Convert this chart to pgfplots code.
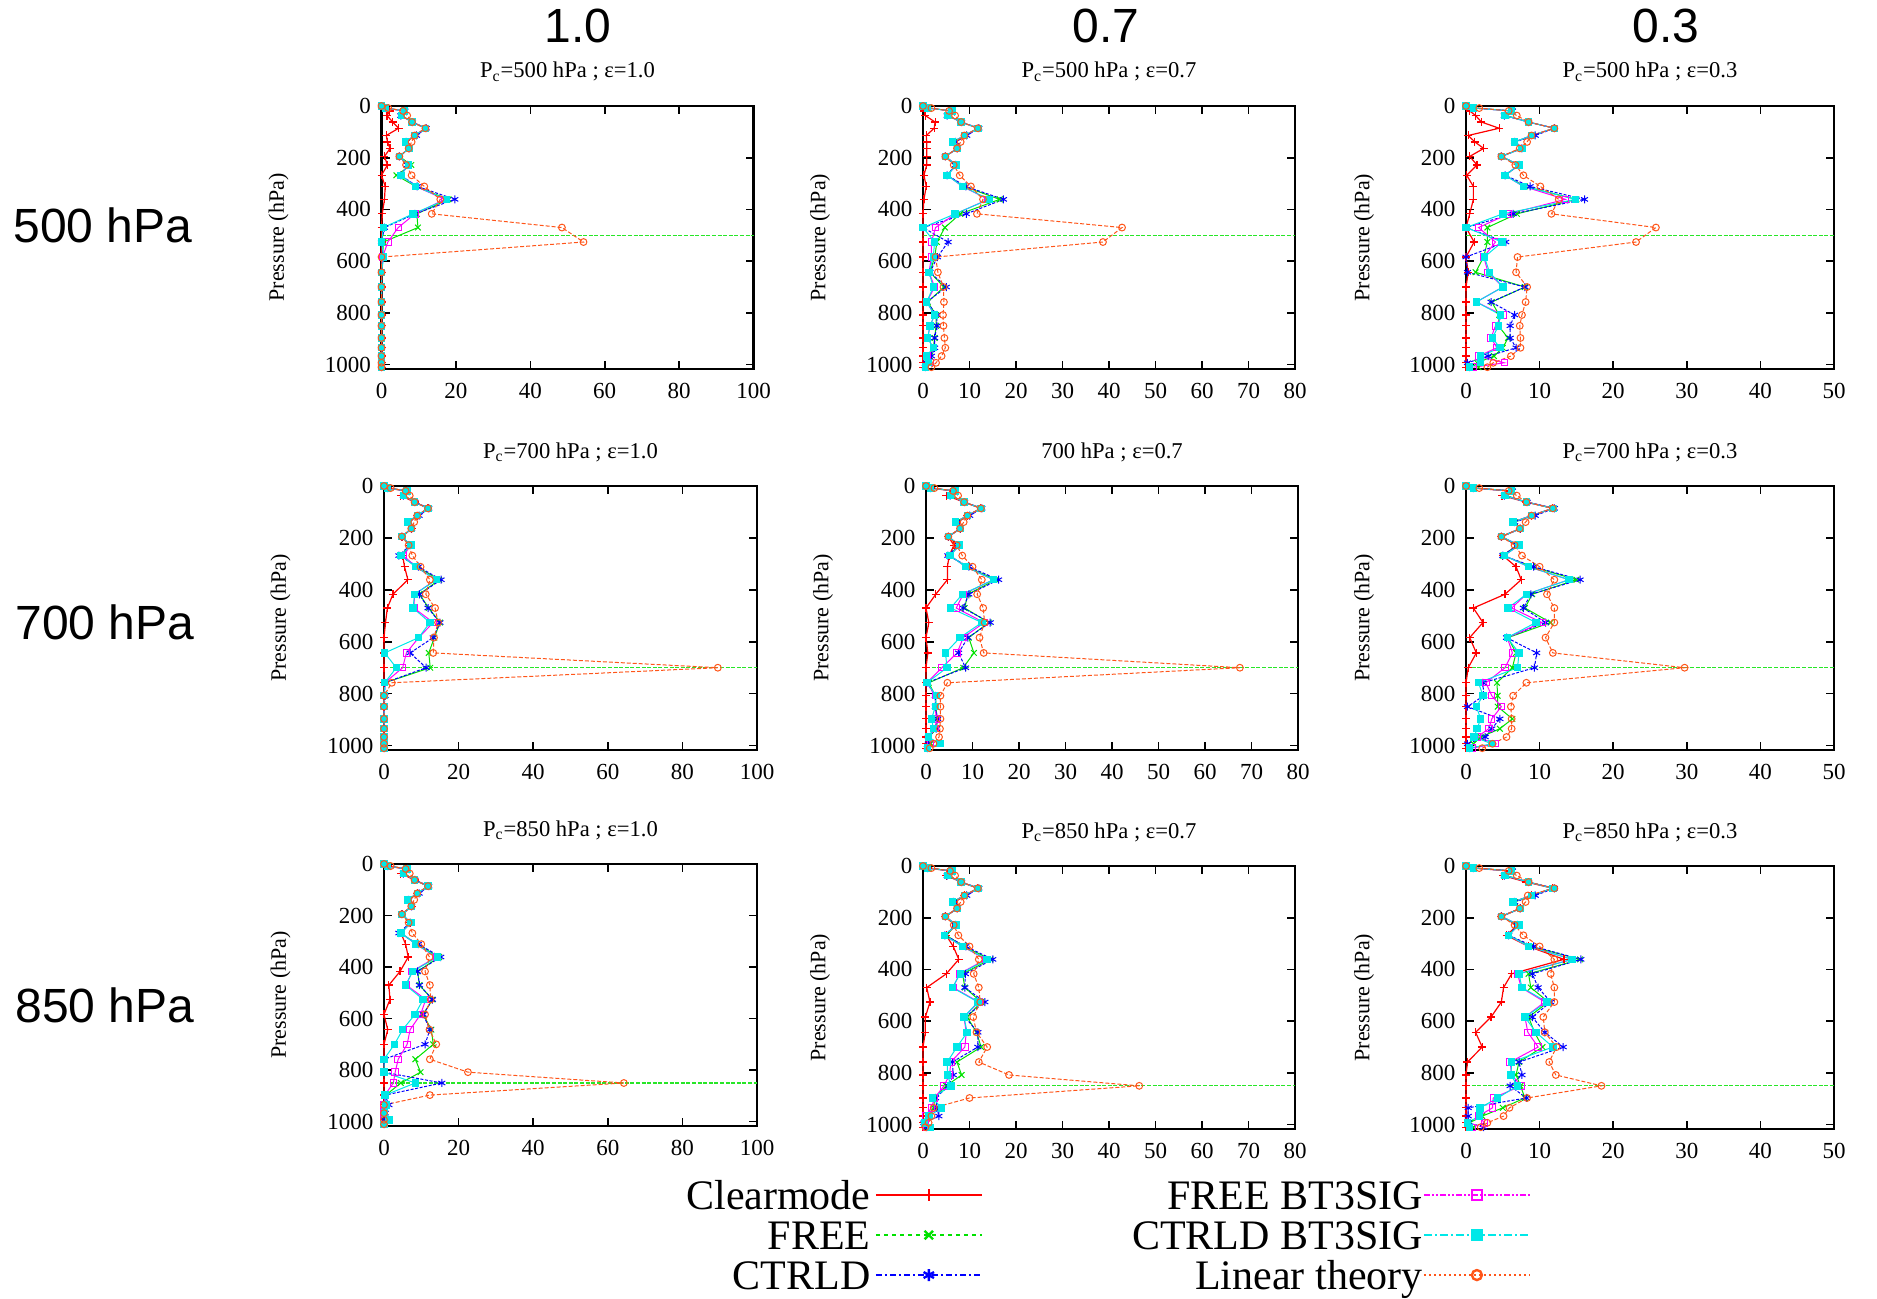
\documentclass[border=0pt]{standalone}
\usepackage{fontspec}
\setmainfont{Liberation Serif}
\newfontfamily\hv{Liberation Sans}
\usepackage{pgfplots}
\usepackage{pgfplotstable}
\pgfplotsset{compat=1.18}

\definecolor{cRed}{RGB}{255,0,0}
\definecolor{cGreen}{RGB}{0,225,0}
\definecolor{cBlue}{RGB}{0,0,255}
\definecolor{cMag}{RGB}{255,0,255}
\definecolor{cCyan}{RGB}{0,232,232}
\definecolor{cOr}{RGB}{255,85,25}
\definecolor{cGL}{RGB}{40,230,40}

\pgfplotsset{
 pan/.style={scale only axis, y dir=reverse, ymin=0, ymax=1017, xmin=0,
   ytick={0,200,...,1000}, tick align=inside, clip=false,
   axis line style={line width=1.2pt}, major tick length=4pt,
   every tick/.style={black, line width=0.8pt},
   /pgf/number format/assume math mode=true, /pgf/number format/1000 sep={},
   xticklabel={\pgfmathprintnumber{\tick}}, yticklabel={\pgfmathprintnumber{\tick}},
   tick label style={font=\rmfamily\fontsize{11.5}{12}\selectfont},
   xticklabel style={yshift=-3.5pt}, yticklabel style={xshift=-1.8pt},
   ylabel={Pressure (hPa)},
   every axis y label/.style={at={(axis description cs:-0.277,0.5)}, rotate=90, anchor=center, font=\rmfamily\fontsize{11}{12}\selectfont},
   every axis title/.style={at={(axis description cs:0.5,1)}, anchor=base, yshift=14pt, font=\rmfamily\fontsize{11.3}{12}\selectfont}},
 pline/.style={cGL, line width=0.6pt, dash pattern=on 2pt off 0.8pt, forget plot},
 sCl/.style={color=cRed, line width=0.6pt, mark=+, mark size=2pt},
 sFr/.style={color=cGreen, line width=0.5pt, mark=x, mark size=2pt},
 sCt/.style={color=cBlue, line width=0.5pt, dash pattern=on 1.5pt off 0.8pt, mark=asterisk, mark size=2pt, mark options={solid}},
 sFb/.style={color=cMag, line width=0.5pt, mark=square, mark size=1.6pt, mark options={solid}},
 sCb/.style={color=cCyan, line width=0.5pt, mark=square*, mark size=1.6pt, mark options={solid}},
 sLi/.style={color=cOr, line width=0.5pt, dash pattern=on 2pt off 1pt, mark=o, mark size=1.7pt, mark options={solid}},
}

% columns: pressure, Clearmode, FREE, CTRLD, FREE BT3SIG, CTRLD BT3SIG, Linear theory
\pgfplotstableread{
p cl fr ct fb cb li
0 0 0 0 0 0 0
8 0.5 1.2 1.0 1.0 1.0 1.8
19 2.2 6.3 6.3 6.2 6.2 5.8
37 1.5 5.5 5.2 5.3 5.3 6.9
62 3.0 8.2 8.3 8.2 8.2 8.2
86 4.6 11.8 12.0 11.8 11.8 11.8
114 1.3 9.0 9.4 8.9 8.9 8.9
139 1.6 6.6 6.6 6.4 6.4 8.1
164 2.3 7.4 7.4 7.4 7.4 7.3
195 0.8 4.8 4.8 4.8 4.8 4.8
228 1.6 8.0 7.0 7.2 7.2 6.6
268 0.0 4.0 5.2 5.2 5.2 8.1
311 1.0 9.2 9.6 9.2 9.2 11.5
361 0.8 18.0 19.7 17.0 17.5 15.8
417 0.2 9.5 9.0 9.0 8.5 13.5
470 0.0 9.8 0.8 4.5 0.5 48.5
526 0.0 0.5 0.0 1.7 0.0 54.3
584 0.0 0.3 0.5 0.3 0.6 0.0
643 0 0 0 0 0 0
700 0 0 0 0 0 0
758 0 0 0 0 0 0
808 0 0 0 0 0 0
850 0 0 0 0 0 0
897 0 0 0 0 0 0
935 0 0 0 0 0 0
967 0 0 0 0 0 0
993 0 0 0 0 0 0
1010 0 0 0 0 0 0
}\tA

\pgfplotstableread{
p cl fr ct fb cb li
0 0 0 0 0 0 0
8 0.3 1.2 1.0 1.0 1.0 1.8
19 0.3 6.3 6.3 6.2 6.2 5.6
37 0.5 5.5 5.2 5.3 5.3 6.9
62 2.6 8.2 8.3 8.2 8.2 8.2
86 2.4 11.8 12.0 11.8 11.8 11.8
114 0.7 9.0 9.4 8.9 8.9 8.9
139 0.8 6.6 7.0 6.4 6.4 8.1
164 0.8 7.4 7.4 7.4 7.4 7.3
195 0.8 4.8 4.8 4.8 4.8 4.8
228 0.8 7.0 7.0 7.2 7.2 6.6
268 0.2 5.2 5.2 5.2 5.2 7.9
311 0.7 8.8 9.2 8.5 8.5 10.3
361 0.2 16.5 17.3 14.0 14.2 12.9
417 0.0 8.0 9.3 7.0 6.9 11.6
470 0.0 4.7 0.0 2.7 0.0 42.8
526 0.0 3.0 5.4 1.8 2.5 38.7
584 0.0 2.5 3.1 1.8 2.2 2.7
643 0.0 1.5 1.5 1.3 1.3 3.2
700 0.0 4.5 5.0 2.5 2.2 4.4
758 0.0 1.0 0.8 0.8 0.8 4.5
808 0.0 2.8 3.0 2.5 2.5 4.3
850 0.0 2.8 3.0 1.5 1.5 4.4
897 0.0 2.5 2.5 1.0 1.0 4.6
935 0.0 2.2 2.5 2.2 2.2 4.8
967 0.0 1.5 1.8 1.0 0.8 4.0
993 0.0 1.0 0.8 1.5 1.2 2.8
1010 0.0 0.5 0.5 0.5 0.5 1.8
}\tB

\pgfplotstableread{
p cl fr ct fb cb li
0 0 0 0 0 0 0
8 0.3 1.2 1.0 1.0 1.0 1.8
19 0.5 6.3 6.3 6.2 6.2 5.8
37 1.3 5.5 5.2 5.3 5.3 6.9
62 2.1 8.5 8.5 8.5 8.5 8.5
86 4.5 12.0 12.0 12.0 12.0 12.0
114 0.3 9.0 9.4 8.9 8.9 8.9
139 1.2 6.6 6.6 6.6 6.6 8.3
164 2.4 7.6 7.6 7.6 7.6 7.3
195 0.5 4.8 4.8 4.8 4.8 4.8
228 1.5 7.2 7.2 7.2 7.2 6.7
268 0.1 5.3 5.3 5.3 5.3 7.8
311 1.0 8.0 8.7 7.8 7.8 10.1
361 1.0 15.0 16.1 13.5 14.9 12.6
417 0.5 6.9 6.4 5.8 5.0 11.6
470 0.0 2.9 0.0 1.7 0.0 25.8
526 1.1 2.9 5.4 4.0 4.9 23.1
584 0.0 2.4 0.0 2.4 2.5 7.0
643 0.3 1.3 0.2 3.0 3.2 6.8
700 0.0 8.0 8.0 5.0 5.0 8.3
758 0.0 3.5 3.4 1.4 1.4 8.1
808 0.0 4.5 6.6 5.0 4.7 7.6
850 0.0 4.4 6.0 4.0 4.4 7.3
897 0.0 5.7 6.0 3.4 3.6 7.4
935 0.0 5.0 6.8 4.2 4.6 7.4
967 0.0 3.8 3.0 1.7 2.0 6.1
993 0.0 1.5 0.2 5.2 2.0 3.7
1010 0.0 1.7 0.5 1.0 0.5 2.9
}\tC

\pgfplotstableread{
p cl fr ct fb cb li
0 0 0 0 0 0 0
8 1.0 1.2 1.0 1.0 1.0 1.8
19 5.8 6.3 6.3 6.2 6.2 5.8
37 4.5 5.5 5.2 5.3 5.3 6.9
62 8.2 8.2 8.3 8.2 8.2 8.2
86 11.8 11.8 12.0 11.8 11.8 11.8
114 8.9 9.0 9.4 8.9 8.9 8.9
139 6.4 6.6 6.6 6.4 6.4 8.1
164 7.4 7.4 7.4 7.4 7.4 7.3
195 4.8 4.8 4.8 4.8 4.8 4.8
228 7.0 7.0 7.0 7.2 7.2 6.6
268 5.0 4.5 4.0 5.2 4.6 7.6
311 5.5 8.8 9.2 8.5 8.4 9.8
361 6.4 14.8 15.3 14.0 14.0 12.3
417 2.4 9.5 9.5 8.2 8.2 11.2
470 0.9 12.0 11.8 8.0 7.8 13.7
526 0.4 15.0 15.0 13.2 12.3 14.5
584 0.0 13.5 13.2 9.3 9.3 13.4
643 0.0 12.0 7.0 6.0 0.2 13.2
700 0.0 12.4 11.3 5.0 3.3 89.5
758 0.0 0.2 0.2 0.2 0.2 2.1
808 0.0 0.0 0.3 0.0 0.0 0.0
850 0 0 0 0 0 0
897 0 0 0 0 0 0
935 0 0 0 0 0 0
967 0 0 0 0 0 0
993 0 0 0 0 0 0
1010 0 0 0 0 0 0
}\tD

\pgfplotstableread{
p cl fr ct fb cb li
0 0 0 0 0 0 0
8 1.0 1.2 1.0 1.0 1.0 1.8
19 5.8 6.3 6.3 6.2 6.2 5.8
37 4.4 5.5 5.2 5.3 5.3 6.9
62 8.2 8.2 8.3 8.2 8.2 8.2
86 11.8 11.8 12.0 11.8 11.8 11.8
114 8.9 9.0 9.4 8.9 8.9 8.9
139 6.4 6.6 6.6 6.4 6.4 8.1
164 7.4 7.4 7.4 7.4 7.4 7.3
195 4.8 4.8 4.8 4.8 4.8 4.8
228 6.0 7.0 7.0 7.2 7.2 6.6
268 5.0 5.0 4.7 5.2 5.2 7.8
311 4.6 8.8 9.2 8.5 8.5 10.0
361 4.6 15.0 15.6 14.5 14.5 12.0
417 2.1 9.0 9.2 8.0 7.8 11.0
470 0.0 8.3 8.0 6.5 5.3 12.3
526 0.6 13.5 13.8 12.5 12.0 12.6
584 0.0 9.2 9.0 8.0 7.3 11.5
643 0.4 10.3 7.0 6.7 4.2 12.4
700 0.0 8.0 8.5 3.4 4.5 67.5
758 0.0 0.6 0.2 0.2 0.2 4.6
808 0.0 2.0 2.0 2.0 2.2 3.1
850 0.0 2.2 2.0 2.0 2.0 3.1
897 0.0 2.3 2.5 2.2 1.2 3.1
935 0.0 2.4 2.2 2.0 1.6 3.0
967 0.0 0.5 0.5 0.5 0.5 2.8
993 0.0 1.0 0.5 1.0 3.0 1.6
1010 0.0 0.3 0.3 0.3 0.3 0.8
}\tE

\pgfplotstableread{
p cl fr ct fb cb li
0 0 0 0 0 0 0
8 1.0 1.2 1.0 1.0 1.0 1.8
19 5.8 6.3 6.3 6.2 6.2 5.8
37 4.9 5.5 5.2 5.3 5.3 6.9
62 8.2 8.2 8.3 8.2 8.2 8.2
86 11.8 11.8 12.0 11.8 11.8 11.8
114 8.9 9.0 9.4 8.9 8.9 8.9
139 6.4 6.6 6.6 6.4 6.4 8.1
164 7.4 7.4 7.4 7.4 7.4 7.3
195 4.8 4.8 4.8 4.8 4.8 4.8
228 7.0 7.0 7.0 7.2 7.2 6.6
268 5.0 5.0 5.0 5.2 5.2 7.6
311 6.8 9.0 9.2 8.5 8.5 10.0
361 7.5 15.0 15.5 14.0 14.0 12.0
417 5.3 9.0 8.8 8.2 8.2 11.0
470 1.0 8.0 7.8 6.2 5.7 12.0
526 2.3 11.5 10.8 10.3 9.5 12.0
584 0.5 5.7 5.5 5.6 5.6 10.8
643 1.4 6.8 9.6 6.3 7.2 11.8
700 0.3 6.3 9.3 5.3 7.0 29.7
758 0.0 4.2 2.3 2.7 1.7 8.2
808 0.0 4.3 2.4 3.5 2.3 6.4
850 0.0 4.3 0.2 4.8 1.4 6.1
897 0.0 6.3 4.6 3.5 2.0 6.2
935 0.0 4.6 3.5 3.1 1.5 6.2
967 0.0 2.0 2.6 1.5 1.1 5.5
993 0.0 1.0 0.2 4.0 3.5 3.6
1010 0.0 0.5 0.5 0.8 0.5 2.2
}\tF

\pgfplotstableread{
p cl fr ct fb cb li
0 0 0 0 0 0 0
8 1.0 1.2 1.0 1.0 1.0 1.8
19 5.8 6.3 6.3 6.2 6.2 5.8
37 4.5 5.5 5.2 5.3 5.3 6.9
62 8.2 8.2 8.3 8.2 8.2 8.2
86 11.8 11.8 12.0 11.8 11.8 11.8
114 8.9 9.0 9.4 8.9 8.9 8.9
139 6.4 6.6 6.6 6.4 6.4 8.1
164 7.4 7.4 7.4 7.4 7.4 7.3
195 4.8 4.8 4.8 4.8 4.8 4.8
228 7.0 7.0 7.0 7.2 7.2 6.6
268 4.5 4.5 4.0 4.6 4.6 7.6
311 5.8 8.8 9.2 8.5 8.5 10.0
361 6.5 14.8 15.2 14.0 14.3 12.2
417 4.3 9.0 9.0 7.5 7.7 11.0
470 1.3 9.5 9.5 6.0 5.8 12.3
526 1.6 13.0 13.0 11.2 10.5 12.5
584 0.0 10.5 10.5 9.8 8.3 11.0
643 1.0 12.7 12.3 7.0 5.0 12.2
700 0.0 13.2 11.0 6.2 2.8 14.0
758 0.0 8.4 0.0 3.8 0.0 12.3
808 0.0 9.8 0.0 3.0 0.0 22.5
850 0.0 4.5 15.5 2.5 8.4 64.3
897 0.0 0.5 0.3 0.2 0.3 12.3
935 0.0 0.2 1.3 0.0 0.5 0.0
967 0.0 0.0 0.3 0.0 0.2 0.0
993 0.0 0.0 0.0 0.0 1.3 0.0
1010 0 0 0 0 0 0
}\tG

\pgfplotstableread{
p cl fr ct fb cb li
0 0 0 0 0 0 0
8 1.0 1.2 1.0 1.0 1.0 1.8
19 5.8 6.3 6.3 6.2 6.2 5.8
37 5.0 5.5 5.2 5.3 5.3 6.9
62 8.2 8.2 8.3 8.2 8.2 8.2
86 11.8 11.8 12.0 11.8 11.8 11.8
114 8.9 9.0 9.4 8.9 8.9 8.9
139 6.4 6.6 6.6 6.4 6.4 8.1
164 7.4 7.4 7.4 7.4 7.4 7.3
195 4.8 4.8 4.8 4.8 4.8 4.8
228 7.0 7.0 7.0 7.2 7.2 6.6
268 5.0 5.0 4.7 4.6 4.6 7.6
311 6.5 8.8 9.2 8.5 8.5 10.0
361 7.7 14.5 15.0 13.5 13.8 12.0
417 5.0 8.5 9.1 7.8 8.0 10.9
470 0.8 9.0 9.0 6.5 6.3 12.0
526 1.5 12.5 13.3 12.0 11.8 12.3
584 0.5 9.5 9.0 8.8 8.8 10.8
643 0.5 11.5 11.8 9.3 9.5 11.5
700 0.0 12.5 11.8 9.0 7.3 13.8
758 0.0 7.3 6.3 6.0 5.2 12.0
808 0.0 8.3 6.5 5.7 5.3 18.5
850 0.0 5.0 5.5 4.5 6.0 46.5
897 0.0 2.5 2.7 2.5 2.0 10.0
935 0.0 2.3 3.0 1.8 4.0 2.3
967 0.0 1.0 3.4 0.5 1.3 1.8
993 0.0 0.5 0.2 0.5 0.3 1.2
1010 0.0 0.8 0.8 0.8 1.6 0.5
}\tH

\pgfplotstableread{
p cl fr ct fb cb li
0 0 0 0 0 0 0
8 1.0 1.2 1.0 1.0 1.0 1.8
19 5.8 6.3 6.3 6.2 6.2 5.8
37 5.0 5.5 5.2 5.3 5.3 6.9
62 8.2 8.5 8.5 8.5 8.5 8.5
86 11.8 11.8 12.0 11.8 11.8 12.0
114 8.9 9.0 9.4 8.9 8.9 8.4
139 6.4 6.6 6.6 6.4 6.4 8.1
164 7.4 7.4 7.4 7.4 7.4 7.3
195 4.8 4.8 4.8 4.8 4.8 4.8
228 7.0 7.0 7.0 7.2 7.2 6.6
268 5.5 5.8 5.8 5.8 5.8 7.8
311 8.5 8.8 9.2 8.5 8.5 10.0
361 13.3 15.5 15.6 14.5 14.4 12.0
417 6.2 8.5 9.0 7.0 7.2 11.5
470 5.1 8.8 9.8 7.5 7.6 12.0
526 4.8 11.2 11.5 10.7 11.0 12.0
584 3.4 8.5 9.0 8.0 8.0 10.5
643 1.3 9.3 10.7 8.4 9.5 10.7
700 2.2 10.4 13.2 9.8 11.8 12.3
758 0.2 7.2 7.2 6.0 6.2 11.3
808 0.0 6.8 7.6 6.2 6.1 12.2
850 0.0 7.4 6.0 7.5 7.0 18.4
897 0.0 8.0 8.2 3.7 4.3 8.3
935 0.0 5.0 0.3 3.6 1.9 5.9
967 0.0 2.2 0.3 1.7 1.8 5.1
993 0.0 0.5 0.3 2.5 0.2 2.9
1010 0.0 1.0 2.4 0.8 0.5 2.0
}\tI

\newcommand{\series}[1]{%
 \addplot[sCl] table[x=cl,y=p]{#1};
 \addplot[sFr] table[x=fr,y=p]{#1};
 \addplot[sCt] table[x=ct,y=p]{#1};
 \addplot[sFb] table[x=fb,y=p]{#1};
 \addplot[sCb] table[x=cb,y=p]{#1};
 \addplot[sLi] table[x=li,y=p]{#1};
}

\begin{document}
\begin{tikzpicture}
\path[use as bounding box] (0pt,0pt) rectangle (938.5pt,649pt);

\node[font=\hv\fontsize{24}{28}\selectfont] at (289pt,636pt) {1.0};
\node[font=\hv\fontsize{24}{28}\selectfont] at (553pt,636pt) {0.7};
\node[font=\hv\fontsize{24}{28}\selectfont] at (833pt,636pt) {0.3};
\node[font=\hv\fontsize{24}{28}\selectfont] at (51.5pt,536.5pt) {500 hPa};
\node[font=\hv\fontsize{24}{28}\selectfont] at (52.5pt,338pt) {700 hPa};
\node[font=\hv\fontsize{24}{28}\selectfont] at (52.5pt,146.5pt) {850 hPa};

% Row 1
\begin{axis}[pan, at={(190.75pt,596pt)}, anchor=north west, width=186pt, height=131.5pt,
  xmax=100, xtick={0,20,...,100}, title={P\textsubscript{c}=500 hPa ; ε=1.0}]
\addplot[pline] coordinates {(0,500) (100,500)};
\series{\tA}
\end{axis}
\begin{axis}[pan, at={(461.5pt,596pt)}, anchor=north west, width=186pt, height=131.5pt,
  xmax=80, xtick={0,10,...,80}, title={P\textsubscript{c}=500 hPa ; ε=0.7}]
\addplot[pline] coordinates {(0,500) (80,500)};
\series{\tB}
\end{axis}
\begin{axis}[pan, at={(733pt,596pt)}, anchor=north west, width=184pt, height=131.5pt,
  xmax=50, xtick={0,10,...,50}, title={P\textsubscript{c}=500 hPa ; ε=0.3}]
\addplot[pline] coordinates {(0,500) (50,500)};
\series{\tC}
\end{axis}

% Row 2
\begin{axis}[pan, at={(192pt,406pt)}, anchor=north west, width=186.5pt, height=132pt,
  xmax=100, xtick={0,20,...,100}, title={P\textsubscript{c}=700 hPa ; ε=1.0}]
\addplot[pline] coordinates {(0,700) (100,700)};
\series{\tD}
\end{axis}
\begin{axis}[pan, at={(463pt,406pt)}, anchor=north west, width=186pt, height=132pt,
  xmax=80, xtick={0,10,...,80}, title={700 hPa ; ε=0.7}]
\addplot[pline] coordinates {(0,700) (80,700)};
\series{\tE}
\end{axis}
\begin{axis}[pan, at={(733pt,406pt)}, anchor=north west, width=184pt, height=132pt,
  xmax=50, xtick={0,10,...,50}, title={P\textsubscript{c}=700 hPa ; ε=0.3}]
\addplot[pline] coordinates {(0,700) (50,700)};
\series{\tF}
\end{axis}

% Row 3
\begin{axis}[pan, at={(192pt,217pt)}, anchor=north west, width=186.5pt, height=131pt,
  xmax=100, xtick={0,20,...,100}, title={P\textsubscript{c}=850 hPa ; ε=1.0}]
\addplot[pline] coordinates {(0,850) (100,850)};
\series{\tG}
\end{axis}
\begin{axis}[pan, at={(461.5pt,216pt)}, anchor=north west, width=186pt, height=131.5pt,
  xmax=80, xtick={0,10,...,80}, title={P\textsubscript{c}=850 hPa ; ε=0.7}]
\addplot[pline] coordinates {(0,850) (80,850)};
\series{\tH}
\end{axis}
\begin{axis}[pan, at={(733pt,216pt)}, anchor=north west, width=184pt, height=131.5pt,
  xmax=50, xtick={0,10,...,50}, title={P\textsubscript{c}=850 hPa ; ε=0.3}]
\addplot[pline] coordinates {(0,850) (50,850)};
\series{\tI}
\end{axis}

% Legends
\pgfplotsset{
 legax/.style={at={(0pt,0pt)}, anchor=south west, width=938.5pt, height=649pt, scale only axis,
   hide axis, xmin=0, xmax=1, ymin=0, ymax=1,
   legend plot pos=right, legend cell align=right,
   legend image code/.code={\draw[mark repeat=2,mark phase=2,##1] plot coordinates {(0pt,0pt) (26.5pt,0pt) (53pt,0pt)};}},
 legst/.style={draw=none, fill=none, inner sep=0pt, outer sep=0pt, row sep=6pt,
   font=\rmfamily\fontsize{21}{21}\selectfont, nodes={inner sep=0pt, text height=14pt, text depth=0pt}},
}
\begin{axis}[legax, legend style={legst, column sep=2pt, at={(0.5237,0.0901)}, anchor=north east}]
\addlegendimage{color=cRed, line width=1.2pt, mark=+, mark size=3pt}
\addlegendentry{Clearmode}
\addlegendimage{color=cGreen, line width=1.2pt, dash pattern=on 2pt off 2pt, mark=x, mark size=3pt, mark options={solid}}
\addlegendentry{FREE}
\addlegendimage{color=cBlue, line width=1.2pt, dash pattern=on 3pt off 1.5pt on 1pt off 1.5pt, mark=asterisk, mark size=3pt, mark options={solid}}
\addlegendentry{CTRLD}
\end{axis}
\begin{axis}[legax, legend style={legst, column sep=0pt, at={(0.8157,0.0901)}, anchor=north east}]
\addlegendimage{color=cMag, line width=1.2pt, dash pattern=on 3pt off 1pt on 1pt off 1pt on 1pt off 1pt, mark=square, mark size=2.5pt, mark options={solid}}
\addlegendentry{FREE BT3SIG}
\addlegendimage{color=cCyan, line width=1.2pt, dash pattern=on 4pt off 1.5pt on 1pt off 1.5pt, mark=square*, mark size=2.5pt, mark options={solid}}
\addlegendentry{CTRLD BT3SIG}
\addlegendimage{color=cOr, line width=1.2pt, dash pattern=on 1pt off 1.5pt, mark=o, mark size=2.5pt, mark options={solid}}
\addlegendentry{Linear theory}
\end{axis}
\end{tikzpicture}
\end{document}
